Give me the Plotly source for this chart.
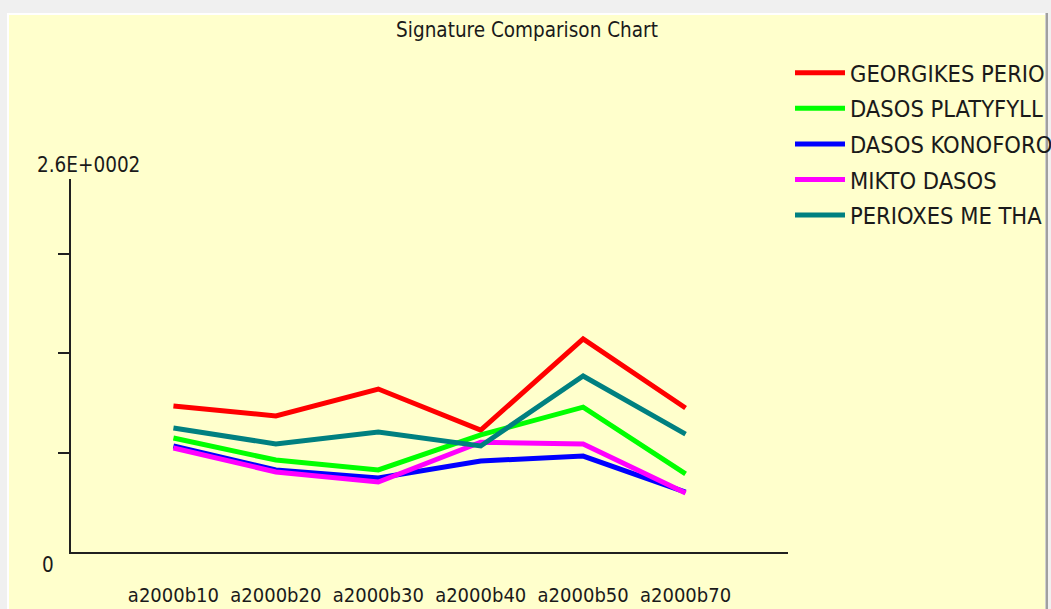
import plotly.graph_objects as go

# ---- data ----
categories = ["a2000b10", "a2000b20", "a2000b30", "a2000b40", "a2000b50", "a2000b70"]
series_names = ["GEORGIKES PERIO", "DASOS PLATYFYLL", "DASOS KONOFORO", "MIKTO DASOS", "PERIOXES ME THA"]
georgikes = [101.8, 94.8, 113.6, 85.0, 148.5, 100.4]
platyfylla = [79.5, 64.1, 57.2, 81.6, 101.0, 54.4]
konoforo = [73.9, 57.2, 51.6, 63.4, 66.9, 41.8]
mikto = [72.5, 55.8, 48.8, 76.5, 75.3, 41.1]
perioxes = [86.4, 75.3, 83.6, 73.9, 122.7, 82.2]
y_max = 260
y_ticks = [69.3, 138.7, 208.0]
y_top_label = "2.6E+0002"
y_zero_label = "0"
title_text = "Signature Comparison Chart"

colors = ["#ff0000", "#00ff00", "#0000ff", "#ff00ff", "#008080"]
values = [georgikes, platyfylla, konoforo, mikto, perioxes]

W, H = 1051, 609
ML, MR, MT, MB = 71, 263, 179, 57
PW, PH = W - ML - MR, H - MT - MB

def px_x(px):
    return (px - ML) / PW

def px_y(py):
    return (H - MB - py) / PH

FONT = "Liberation Sans Narrow, Arial Narrow, DejaVu Sans Condensed, sans-serif"
TXT = "#1a1a1a"

fig = go.Figure()
for i, (name, vals, col) in enumerate(zip(series_names, values, colors)):
    fig.add_trace(go.Scatter(
        x=categories, y=vals, name=name, mode="lines",
        line=dict(color=col, width=5), legendgroup=f"g{i}",
    ))

shapes = [
    dict(type="rect", xref="paper", yref="paper", layer="below",
         x0=px_x(7), x1=px_x(1046), y0=px_y(13), y1=px_y(H + 5),
         fillcolor="#ffffff", line=dict(width=0)),
    dict(type="rect", xref="paper", yref="paper", layer="below",
         x0=px_x(9), x1=px_x(1045), y0=px_y(15), y1=px_y(H + 5),
         fillcolor="#ffffcc", line=dict(width=0)),
    dict(type="rect", xref="paper", yref="paper", layer="below",
         x0=px_x(1045.5), x1=px_x(1048), y0=px_y(13), y1=px_y(H + 5),
         fillcolor="#a0a0a0", line=dict(width=0)),
]

fig.update_layout(
    width=W, height=H,
    margin=dict(l=ML, r=MR, t=MT, b=MB, autoexpand=False),
    paper_bgcolor="#f0f0f0",
    plot_bgcolor="rgba(0,0,0,0)",
    font=dict(family=FONT, size=20, color=TXT),
    title=dict(text=title_text, x=527 / W, xanchor="center",
               y=1 - 30 / H, yanchor="middle",
               font=dict(family=FONT, size=20.5, color=TXT)),
    showlegend=True,
    legend=dict(x=px_x(790), xanchor="left", y=px_y(51), yanchor="top",
                bgcolor="rgba(0,0,0,0)", borderwidth=0,
                font=dict(family=FONT, size=23.5, color=TXT),
                itemwidth=50,
                tracegroupgap=2, traceorder="grouped"),
    shapes=shapes,
    xaxis=dict(type="category", range=[-1, len(categories)],
               showgrid=False, zeroline=False, showline=True,
               linecolor="#202020", linewidth=2, ticks="",
               tickfont=dict(family=FONT, size=20, color=TXT),
               ticklabelstandoff=24),
    yaxis=dict(range=[0, y_max], showgrid=False, zeroline=False,
               showline=True, linecolor="#202020", linewidth=2,
               ticks="outside", ticklen=11, tickwidth=2, tickcolor="#202020",
               tickvals=y_ticks, ticktext=["", "", ""], showticklabels=True),
    annotations=[
        dict(text=y_top_label, xref="paper", yref="y", x=px_x(88), y=y_max,
             yshift=14, showarrow=False, xanchor="center", yanchor="middle",
             font=dict(family=FONT, size=20.5, color=TXT)),
        dict(text=y_zero_label, xref="paper", yref="y", x=px_x(48), y=0,
             yshift=-13, showarrow=False, xanchor="center", yanchor="middle",
             font=dict(family=FONT, size=20.5, color=TXT)),
    ],
)

fig.write_html("out.html",
               config={"displayModeBar": False},
               post_script="document.body.style.margin='0';"
                           "document.body.style.overflow='hidden';")
